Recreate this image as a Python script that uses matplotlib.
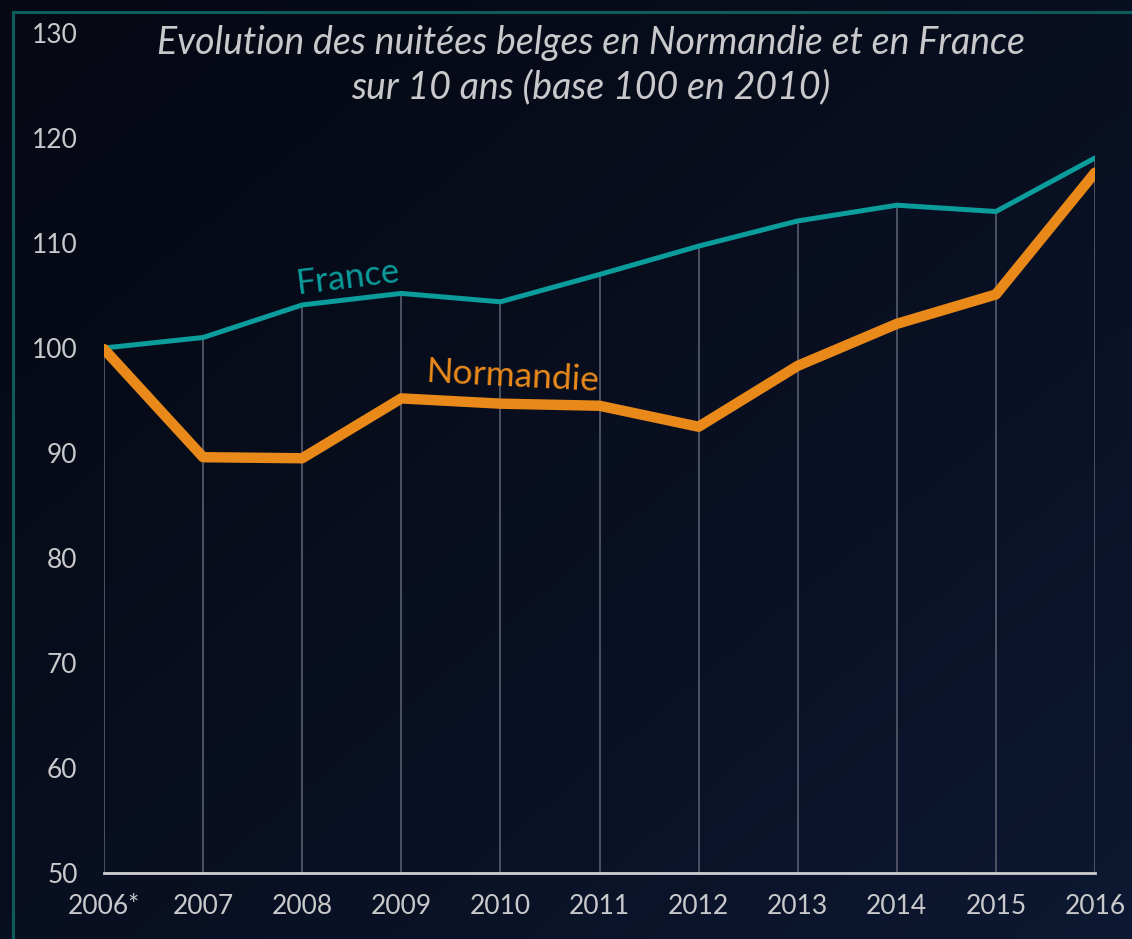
import numpy as np
import matplotlib.pyplot as plt
from matplotlib.lines import Line2D

# Data
years = ['2006*', '2007', '2008', '2009', '2010', '2011',
         '2012', '2013', '2014', '2015', '2016']
france = [100.0, 101.0, 104.1, 105.2, 104.4, 107.0, 109.7, 112.1, 113.6, 113.0, 118.1]
normandie = [99.9, 89.6, 89.5, 95.2, 94.7, 94.5, 92.5, 98.3, 102.3, 105.1, 116.7]
yticks = [50, 60, 70, 80, 90, 100, 110, 120, 130]

teal = '#0b9c9c'
orange = '#e8891a'
txt = '#c9c9cc'

plt.rcParams['font.family'] = ['Lato', 'DejaVu Sans']

fig = plt.figure(figsize=(11.32, 9.39), dpi=100)

# background gradient (dark top-left to navy bottom-right)
bg = fig.add_axes([0, 0, 1, 1], zorder=-10)
gx, gy = np.meshgrid(np.linspace(0, 1, 200), np.linspace(0, 1, 200))
t = np.clip((gx + gy) / 2, 0, 1)
c0 = np.array([6, 9, 20]) / 255
c1 = np.array([13, 24, 50]) / 255
img = c0 + (c1 - c0) * t[..., None] ** 1.3
bg.imshow(img, aspect='auto', extent=[0, 1, 0, 1], origin='upper')
bg.set_xlim(0, 1)
bg.set_ylim(0, 1)
bg.axis('off')

# teal border (top and left)
fig.add_artist(Line2D([13 / 1132, 13 / 1132], [0, 1 - 12 / 939], color='#0c5c5c', lw=2.2))
fig.add_artist(Line2D([13 / 1132, 1], [1 - 12 / 939, 1 - 12 / 939], color='#0c5c5c', lw=2.2))

ax = fig.add_axes([104 / 1132, 66 / 939, 991 / 1132, 840 / 939])
ax.set_facecolor('none')
x = np.arange(len(years))

# drop lines from axis to the top series
ax.vlines(x, 50, np.maximum(france, normandie), color='#4c5264', lw=1.4, zorder=1)

ax.plot(x, france, color=teal, lw=3.6, solid_capstyle='round', zorder=3)
ax.plot(x, normandie, color=orange, lw=7.5, solid_capstyle='round', zorder=4)

ax.set_xlim(0, 10)
ax.set_ylim(50, 130)
ax.set_xticks(x)
ax.set_xticklabels(years)
ax.set_yticks(yticks)
ax.tick_params(axis='both', length=0, colors=txt, labelsize=19)
ax.tick_params(axis='y', pad=19)
ax.tick_params(axis='x', pad=15)
for s in ['top', 'right', 'left']:
    ax.spines[s].set_visible(False)
ax.spines['bottom'].set_color('#cfcfd2')
ax.spines['bottom'].set_linewidth(2)

ax.text(2.47, 106.7, 'France', color=teal, fontsize=25, rotation=7,
        ha='center', va='center')
ax.text(4.13, 97.3, 'Normandie', color=orange, fontsize=25.5, rotation=-3,
        ha='center', va='center')

fig.text(591 / 1132, 1 - 65 / 939,
         'Evolution des nuitées belges en Normandie et en France\nsur 10 ans (base 100 en 2010)',
         color=txt, fontsize=27, style='italic', ha='center', va='center',
         linespacing=1.27)

fig.savefig('out.png', dpi=100)
